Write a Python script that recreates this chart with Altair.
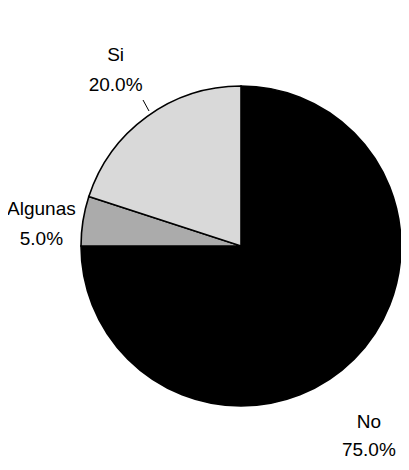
import altair as alt
import pandas as pd

categories = ["No", "Algunas", "Si"]
values = [75.0, 5.0, 20.0]
labels = ["No\n75.0%", "Algunas\n5.0%", "Si\n20.0%"]
colors = ["#000000", "#ababab", "#d9d9d9"]
order = [0, 1, 2]

df = pd.DataFrame({"cat": categories, "val": values, "label": labels, "ord": order})

FONT = "Liberation Sans Narrow, Arial Narrow, Liberation Sans"
CX, CY, R = 233, 238, 160

base = alt.Chart(df)

pie = base.mark_arc(stroke="#000000", strokeWidth=1.6, radius=R).encode(
    theta=alt.Theta("val:Q", stack=True),
    order=alt.Order("ord:Q"),
    color=alt.Color("cat:N", scale=alt.Scale(domain=categories, range=colors), legend=None),
    x=alt.value(CX), y=alt.value(CY),
)

def label_layer(cat, radius, dx, dy, lh=30):
    return base.mark_text(
        radius=radius, font=FONT, fontSize=19, lineBreak="\n", lineHeight=lh,
        align="center", baseline="middle", color="#000000", dx=dx, dy=dy,
    ).encode(
        theta=alt.Theta("val:Q", stack=True),
        order=alt.Order("ord:Q"),
        text="label:N",
        x=alt.value(CX), y=alt.value(CY),
        opacity=alt.condition(alt.datum.cat == cat, alt.value(1), alt.value(0)),
    )

leader = alt.Chart(pd.DataFrame({"a": [0]})).mark_rule(color="#000000", strokeWidth=1).encode(
    x=alt.value(135), x2=alt.value(141), y=alt.value(92), y2=alt.value(103)
)

chart = alt.layer(
    pie,
    label_layer("Si", 215, 1, -17),
    label_layer("Algunas", 195, -7, -6),
    label_layer("No", 195, -10, 38, 28),
    leader,
).properties(width=393, height=454, autosize=alt.AutoSizeParams(type="none"), padding=0).configure_view(stroke=None)

chart.save("out.html", embed_options={"renderer": "svg", "actions": False})
